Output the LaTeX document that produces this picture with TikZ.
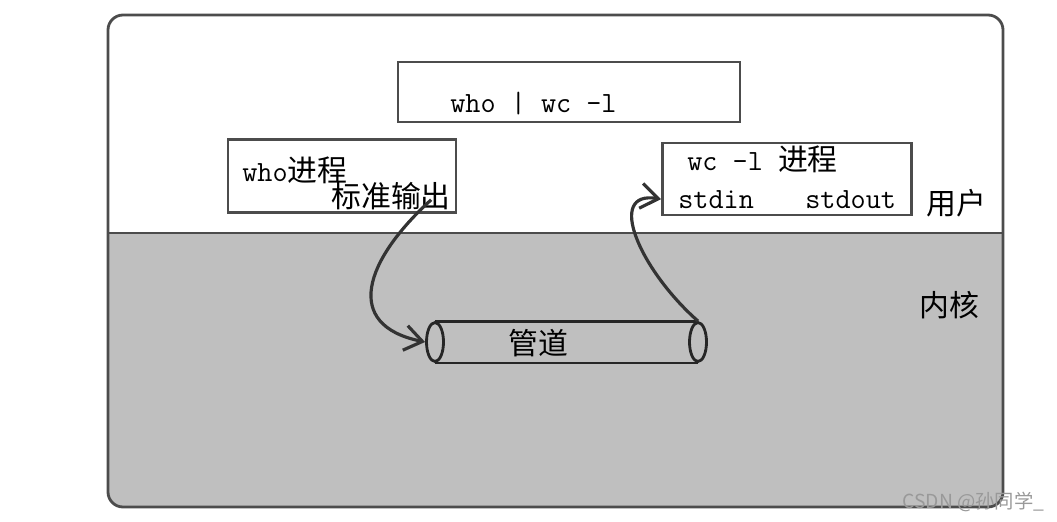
\documentclass[tikz,border=0pt]{standalone}
\usepackage{fontspec}
\newfontfamily\cjk{Noto Sans CJK SC}
\newcommand{\zh}[1]{{\fontsize{17pt}{19pt}\selectfont\cjk #1}}
\usetikzlibrary{shapes.geometric, arrows.meta, positioning}

\begin{document}
\begin{tikzpicture}[x=0.02cm, y=-0.02cm,
  box/.style={draw=black!70, line width=1.6pt, fill=white, inner sep=0pt},
  txt/.style={inner sep=0pt, anchor=base west, font=\fontsize{16.7pt}{18pt}\selectfont\ttfamily},
  zh/.style={inner sep=0pt, anchor=base west, font=\fontsize{17pt}{19pt}\selectfont\cjk},
  flow/.style={line width=1.8pt, black!80, -{Straight Barb[length=3.5mm, width=5mm]}},
  pipeend/.style={ellipse, draw=black!85, line width=1.6pt, minimum width=0.34cm, minimum height=0.78cm, inner sep=0pt}
]
\useasboundingbox (0,0) rectangle (1057,521);

% user / kernel frame
\begin{scope}
\clip[rounded corners=0.3cm] (108,15) rectangle (1003,507);
\fill[black!25] (108,233) rectangle (1003,507);
\end{scope}
\draw[black!70, line width=1.6pt, rounded corners=0.3cm] (108,15) rectangle (1003,507);
\draw[black!70, line width=1.4pt] (108,233) -- (1003,233);

\node[box, minimum width=6.84cm, minimum height=1.2cm] (cmdbox) at (569,92) {};
\node[txt] (cmd) at (450,112) {who | wc -l};

\node[box, minimum width=4.56cm, minimum height=1.46cm] (whobox) at (342,176) {};
\node[txt] (who) at (242,181) {who\zh{进程}};
\node[zh] (whoout) at (331,207) {标准输出};

\node[box, minimum width=4.98cm, minimum height=1.44cm] (wcbox) at (787,179) {};
\node[txt] (wc) at (687,170) {wc -l \zh{进程}};
\node[txt] (stdin) at (678,208) {stdin};
\node[txt] (stdout) at (805,208) {stdout};

\node[zh] (user) at (926,214) {用户};
\node[zh] (kernel) at (919,316) {内核};

% pipe
\node[pipeend] (pipeL) at (435,342) {};
\node[pipeend] (pipeR) at (698,342) {};
\draw[black!85, line width=1.6pt] (pipeL.north) -- (pipeR.north) (pipeL.south) -- (pipeR.south);
\node[zh] (pipe) at (508,354) {管道};

\draw[flow] ([xshift=-0.4cm, yshift=0.2cm]whoout.south east) .. controls (365,260) and (342,325) .. (pipeL.west);
\draw[flow] (pipeR.north) .. controls (640,270) and (605,190) .. (wcbox.west |- stdin.center);

\node[inner sep=0pt, anchor=base west, text=black!40, font=\fontsize{11pt}{13pt}\selectfont\cjk] (mark) at (902,508) {CSDN @孙同学\_};
\end{tikzpicture}
\end{document}
